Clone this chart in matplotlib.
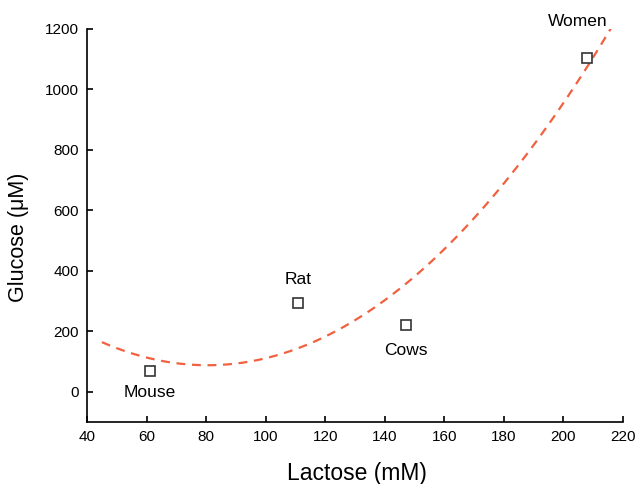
import numpy as np
import matplotlib.pyplot as plt

plt.rcParams['font.family'] = ['Liberation Sans', 'DejaVu Sans']

# data
species = ['Mouse', 'Rat', 'Cows', 'Women']
lactose = [61, 111, 147, 208]
glucose = [70, 292, 220, 1105]

# label offsets in points (dx, dy)
label_offsets = [(0, -16), (0, 17), (0, -18), (-7, 26)]

# quadratic fit through the points
coef = np.polyfit(lactose, glucose, 2)
xs = np.linspace(45, 220, 200)
ys = np.polyval(coef, xs)

fig = plt.figure(figsize=(6.39, 4.84), dpi=100)
ax = fig.add_axes([87/639, 1 - 422/484, (623-87)/639, (422-29)/484])

ax.plot(xs, ys, '--', color='#f2613f', lw=1.6, dashes=(4, 3))
ax.plot(lactose, glucose, 's', mfc='white', mec='#333333', mew=1.2, ms=7, ls='none')

for name, x, y, (dx, dy) in zip(species, lactose, glucose, label_offsets):
	ax.annotate(name, (x, y), xytext=(dx, dy), textcoords='offset points',
				ha='center', va='center', fontsize=12.5)

ax.set_xlim(40, 220)
ax.set_ylim(-100, 1200)
ax.set_xticks(np.arange(40, 221, 20))
ax.set_yticks(np.arange(0, 1201, 200))
ax.tick_params(direction='in', length=4, width=1.2, labelsize=11, pad=6)
for side in ('top', 'right'):
	ax.spines[side].set_visible(False)
for side in ('left', 'bottom'):
	ax.spines[side].set_linewidth(1.2)

ax.set_xlabel('Lactose (mM)', fontsize=16.5)
ax.set_ylabel('Glucose (μM)', fontsize=15.5)
ax.xaxis.set_label_coords(0.504, -0.103)
ax.yaxis.set_label_coords(-0.108, 0.47)

plt.savefig('out.png', dpi=100)
